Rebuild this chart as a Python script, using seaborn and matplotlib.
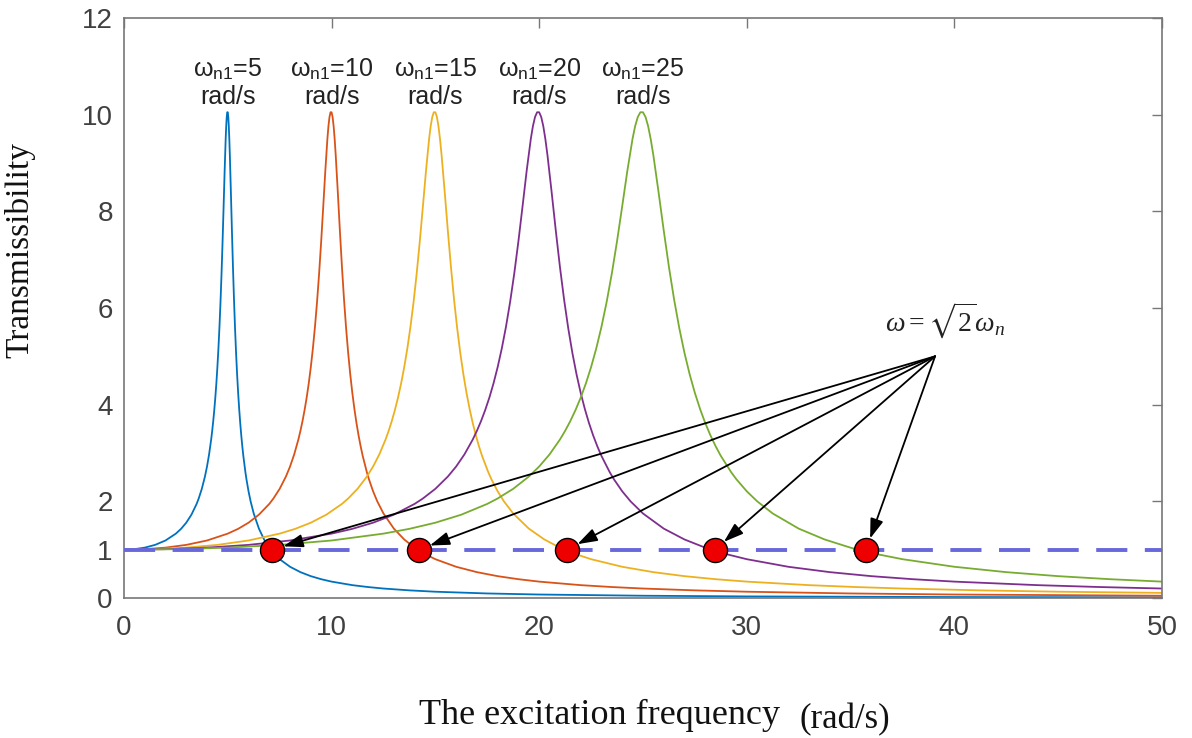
import numpy as np
import pandas as pd
import matplotlib
matplotlib.use("Agg")
import matplotlib.pyplot as plt
import seaborn as sns

# natural frequencies of the five curves (rad/s)
natural_freqs = [5, 10, 15, 20, 25]
# transmissibility, as a function of frequency ratio w/wn
ratio = [0, 0.1, 0.2, 0.3, 0.4, 0.5, 0.55, 0.6, 0.65, 0.7, 0.72, 0.75, 0.78,
         0.8, 0.82, 0.84, 0.85, 0.86, 0.87, 0.88, 0.89, 0.9, 0.91, 0.92,
         0.93, 0.94, 0.95, 0.96, 0.97, 0.98, 0.985, 0.99, 0.995, 1.0, 1.005,
         1.01, 1.015, 1.02, 1.03, 1.04, 1.05, 1.06, 1.07, 1.08, 1.09, 1.1,
         1.11, 1.12, 1.13, 1.14, 1.15, 1.17, 1.18, 1.2, 1.22, 1.25, 1.3, 1.35,
         1.4, 1.414, 1.45, 1.5, 1.6, 1.7, 1.8, 1.9, 2.0, 2.2, 2.35, 2.5, 2.75,
         3, 3.5, 4, 5, 6, 8, 10]
trans = [1.000, 1.010, 1.042, 1.099, 1.190, 1.332, 1.431, 1.558, 1.724, 1.947,
         2.059, 2.259, 2.512, 2.720, 2.971, 3.278, 3.458, 3.660, 3.888, 4.145,
         4.439, 4.776, 5.163, 5.609, 6.123, 6.713, 7.379, 8.105, 8.845, 9.506,
         9.765, 9.951, 10.05, 10.05, 9.951, 9.760, 9.491, 9.162, 8.401, 7.605,
         6.852, 6.176, 5.583, 5.070, 4.627, 4.244, 3.911, 3.620, 3.365, 3.140,
         2.940, 2.602, 2.457, 2.208, 2.001, 1.749, 1.436, 1.211, 1.041, 1.000,
         0.909, 0.803, 0.646, 0.535, 0.452, 0.389, 0.339, 0.266, 0.227, 0.196,
         0.158, 0.130, 0.094, 0.072, 0.047, 0.033, 0.020, 0.014]
# marked points where the curves cross T = 1
cross_x = [7.13, 14.2, 21.34, 28.47, 35.75]
cross_y = [1, 1, 1, 1, 1]
label_texts = ['ω$_{\\mathsf{n1}}$=%d\nrad/s' % w for w in natural_freqs]
matlab_colors = ['#0072BD', '#D95319', '#EDB120', '#7E2F8E', '#77AC30']

rows = []
for wn in natural_freqs:
    for r, t in zip(ratio, trans):
        rows.append({'freq': r * wn, 'T': t, 'wn': wn})
df = pd.DataFrame(rows)

sns.set_style("white")
plt.rcParams['font.family'] = ['Liberation Sans', 'DejaVu Sans']
plt.rcParams['mathtext.fontset'] = 'custom'
plt.rcParams['mathtext.rm'] = 'Liberation Serif'
plt.rcParams['mathtext.it'] = 'Liberation Serif:italic'
plt.rcParams['mathtext.sf'] = 'Liberation Sans'
plt.rcParams['mathtext.fallback'] = 'stix'

fig = plt.figure(figsize=(11.92, 7.38), dpi=100)
ax = fig.add_axes([0.104, 0.1897, 0.8708, 0.7859])

sns.lineplot(data=df, x='freq', y='T', hue='wn', palette=matlab_colors,
             linewidth=1.3, legend=False, ax=ax, estimator=None)

ax.axhline(1, color='#6868dc', lw=2.8, dashes=(8, 4.5), zorder=3)

for xc, yc in zip(cross_x, cross_y):
    ax.annotate('', xy=(xc, yc), xytext=(39.07, 5.0),
                arrowprops=dict(arrowstyle='-|>,head_length=0.6,head_width=0.2',
                                mutation_scale=20, color='black', lw=1.3,
                                shrinkA=0, shrinkB=8.5),
                zorder=5)

sns.scatterplot(x=cross_x, y=cross_y, s=300, color='#ee0000', edgecolor='black',
                linewidth=1.0, ax=ax, zorder=6)

for wn, txt in zip(natural_freqs, label_texts):
    ax.text(wn, 10.12, txt, ha='center', va='bottom', fontsize=18,
            color='#222222', linespacing=1.15)

ax.text(39.55, 5.73, r'$\omega = \sqrt{2}\omega_n$', ha='center', va='center',
        fontsize=20, color='#222222')

ax.set_xlim(0, 50)
ax.set_ylim(0, 12)
ax.set_xticks([0, 10, 20, 30, 40, 50])
ax.set_yticks([0, 1, 2, 4, 6, 8, 10, 12])
ax.set_xlabel('')
ax.set_ylabel('')
ax.tick_params(direction='in', length=7, width=1, colors='#777777',
               labelcolor='#404040', labelsize=20, top=True, right=True,
               labeltop=False, labelright=False)
ax.tick_params(axis='x', pad=12)
ax.tick_params(axis='y', pad=8)
for s in ax.spines.values():
    s.set_color('#777777')
    s.set_linewidth(1.2)
    s.set_visible(True)

fig.text(0.017, 0.661, 'Transmissibility', rotation=90, ha='center', va='center',
         fontsize=24, family=['Liberation Serif', 'DejaVu Serif'], color='#111111')
fig.text(0.503, 0.019, 'The excitation frequency', ha='center', va='baseline',
         fontsize=26, family=['Liberation Serif', 'DejaVu Serif'], color='#111111')
fig.text(0.671, 0.0135, '(rad/s)', ha='left', va='baseline',
         fontsize=25, family=['Liberation Serif', 'DejaVu Serif'], color='#111111')

fig.savefig('out.png', dpi=100)
